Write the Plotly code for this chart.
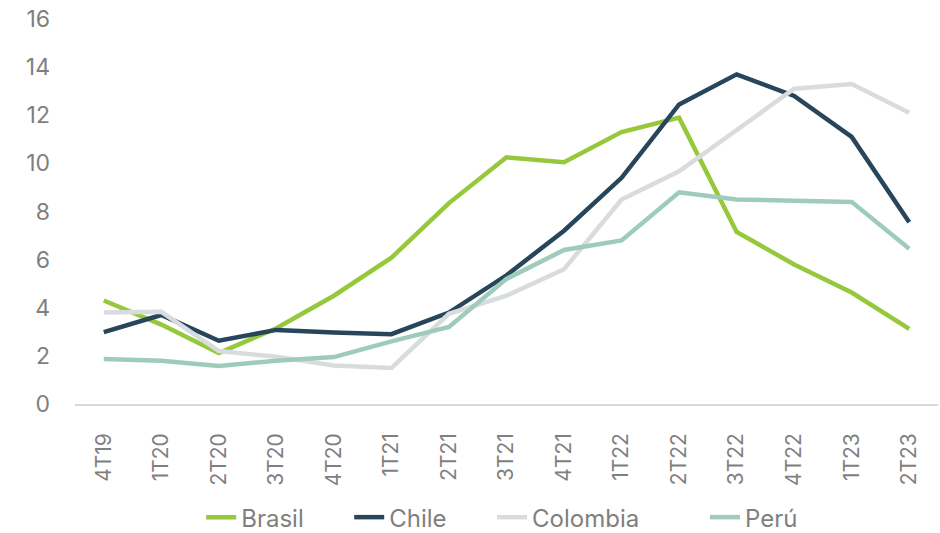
import plotly.graph_objects as go

categories = ["4T19", "1T20", "2T20", "3T20", "4T20", "1T21", "2T21", "3T21",
              "4T21", "1T22", "2T22", "3T22", "4T22", "1T23", "2T23"]
brasil = [4.3, 3.3, 2.12, 3.15, 4.5, 6.08, 8.35, 10.25, 10.05, 11.3, 11.9, 7.15, 5.8, 4.63, 3.12]
chile = [2.99, 3.7, 2.63, 3.08, 2.97, 2.9, 3.8, 5.35, 7.2, 9.4, 12.45, 13.7, 12.8, 11.1, 7.55]
colombia = [3.8, 3.83, 2.2, 1.96, 1.6, 1.5, 3.75, 4.5, 5.6, 8.5, 9.67, 11.4, 13.1, 13.3, 12.1]
peru = [1.87, 1.8, 1.58, 1.8, 1.95, 2.6, 3.2, 5.2, 6.4, 6.8, 8.8, 8.5, 8.45, 8.4, 6.45]

series_names = ["Brasil", "Chile", "Colombia", "Perú"]
series_colors = ["#95c83a", "#27465c", "#d9dcdf", "#9fcbbd"]
series_values = [brasil, chile, colombia, peru]
# non-breaking spaces after each legend label widen the gap between legend entries
legend_pad = [6, 6, 9, 0]

fig = go.Figure()
for name, vals, color, pad in zip(series_names, series_values, series_colors, legend_pad):
    fig.add_trace(go.Scatter(
        x=categories, y=vals, name=name + "\u00a0" * pad, mode="lines",
        line=dict(color=color, width=4.5),
    ))

font_family = "Inter, Lato, sans-serif"
fig.update_layout(
    width=940, height=533,
    margin=dict(l=75, r=2, t=19, b=129),
    paper_bgcolor="white", plot_bgcolor="white",
    font=dict(family=font_family, size=21, color="#7f7f7f"),
    showlegend=True,
    legend=dict(orientation="h", x=0.495, xanchor="center",
                yref="container", y=0.029, yanchor="middle",
                bgcolor="rgba(0,0,0,0)",
                font=dict(size=24, color="#7f7f7f"), itemwidth=30),
    xaxis=dict(
        type="category", range=[-0.5, 14.5], tickangle=-90, automargin=False,
        showgrid=False, showline=True, linecolor="#d9d9d9", linewidth=1.5,
        ticks="", ticklabelstandoff=19, tickfont=dict(size=21, color="#7f7f7f"),
    ),
    yaxis=dict(
        range=[0, 16], dtick=2, showgrid=False, zeroline=False, showline=False,
        automargin=False,
        ticks="", ticklabelstandoff=24, tickfont=dict(size=23, color="#7f7f7f"),
    ),
)

fig.write_html("out.html")
